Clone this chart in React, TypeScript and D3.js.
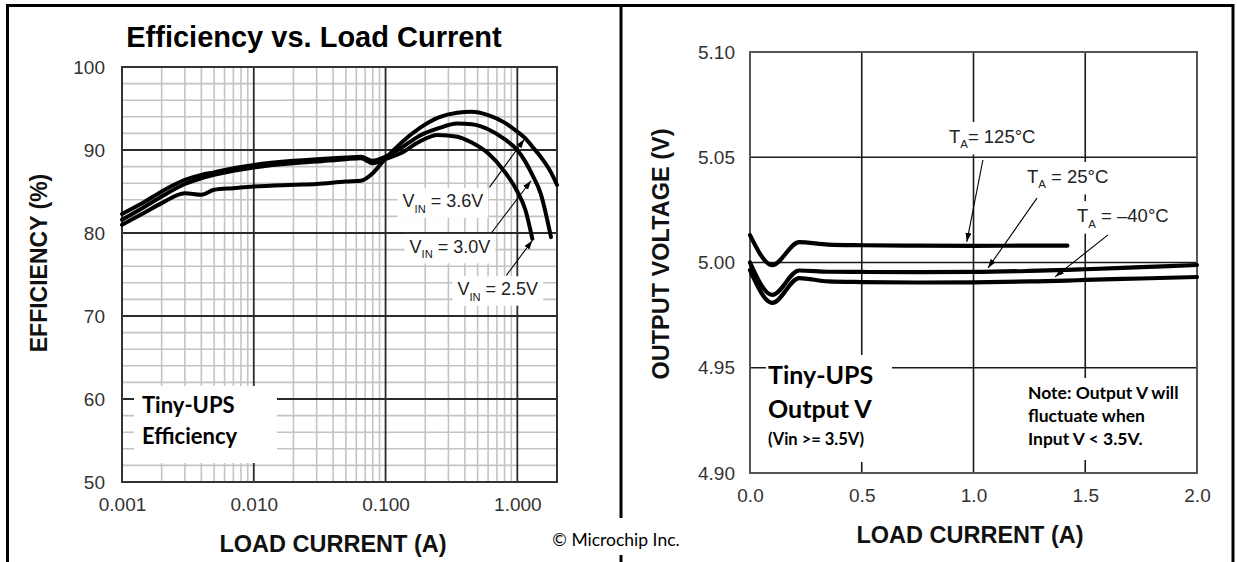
import React, { useEffect, useRef } from "react";
import * as d3 from "d3";

const W = 1237;
const H = 562;
const ARIAL = "'Liberation Sans', Arial, sans-serif";
const CALIBRI = "Lato, 'Open Sans', sans-serif";

// left chart: efficiency vs load current (log x)
const effCurrent = [0.001, 0.0015, 0.002, 0.003, 0.004, 0.005, 0.007, 0.01, 0.02, 0.03, 0.05, 0.065, 0.08, 0.1, 0.13, 0.18, 0.25, 0.35, 0.45, 0.6, 0.8, 1.0, 1.15, 1.3, 1.5, 1.8, 2.0];
const effVin36 = [81.0, 82.5, 83.6, 84.8, 84.6, 85.2, 85.4, 85.6, 85.8, 85.9, 86.2, 86.3, 87.2, 89.0, 90.8, 92.6, 93.9, 94.5, 94.6, 94.2, 93.3, 92.2, 91.4, 90.4, 89.2, 87.3, 85.8];
const effVin30 = [82.3, 83.8, 85.0, 86.4, 87.0, 87.3, 87.8, 88.2, 88.7, 88.9, 89.1, 89.2, 88.7, 89.2, 90.2, 91.7, 92.6, 93.2, 93.1, 92.5, 91.3, 90.0, 88.6, 87.0, 84.8, 79.5, null];
const effVin25 = [81.6, 83.2, 84.4, 85.9, 86.6, 87.0, 87.5, 87.9, 88.4, 88.6, 88.9, 89.0, 88.4, 88.9, 89.6, 91.0, 91.8, 91.6, 90.9, 89.6, 87.4, 85.0, 82.8, 79.3, null, null, null];
const effXTicks = [0.001, 0.01, 0.1, 1];
const effXTickLabels = ["0.001", "0.010", "0.100", "1.000"];
const effYTicks = [50, 60, 70, 80, 90, 100];
const effVinNames = ["3.6V", "3.0V", "2.5V"];

// right chart: output voltage vs load current
const voutCurrent = [0, 0.1, 0.22, 0.35, 0.5, 0.75, 1.0, 1.25, 1.42, 1.5, 1.75, 2.0];
const voutTa125 = [5.013, 4.9988, 5.0097, 5.0085, 5.0082, 5.008, 5.0079, 5.008, 5.008, null, null, null];
const voutTa25 = [5.0, 4.9846, 4.9962, 4.9956, 4.9955, 4.9954, 4.9955, 4.996, 4.9965, 4.9968, 4.9978, 4.9988];
const voutTaM40 = [4.9964, 4.9808, 4.9926, 4.991, 4.9907, 4.9905, 4.9906, 4.991, 4.9914, 4.9917, 4.9924, 4.9931];
const voutXTicks = [0, 0.5, 1, 1.5, 2];
const voutYTicks = [4.9, 4.95, 5.0, 5.05, 5.1];
const voutTaNames = ["125°C", "25°C", "–40°C"];

// annotations, in data units: label anchor, arrow tail, arrow tip
const effNotes = [
  { label: [0.1346, 83.1], tail: [0.614, 85.5], tip: [1.13, 91.3] },
  { label: [0.152, 77.6], tail: [0.635, 80.0], tip: [1.27, 86.3] },
  { label: [0.351, 72.5], tail: [0.826, 74.9], tip: [1.3, 79.1] },
];
const voutNotes = [
  { label: [0.89, 5.0568], tail: [1.042, 5.0487], tip: [0.97, 5.0098] },
  { label: [1.239, 5.0378], tail: [1.284, 5.0306], tip: [1.065, 4.9974] },
  { label: [1.463, 5.0192], tail: [1.602, 5.0131], tip: [1.365, 4.9932] },
];

const App = () => {
  const svgRef = useRef<SVGSVGElement>(null);

  useEffect(() => {
    const svg = d3.select(svgRef.current);
    svg.selectAll("*").remove();

    svg.append("defs").append("marker")
      .attr("id", "arr")
      .attr("markerUnits", "userSpaceOnUse")
      .attr("markerWidth", 10).attr("markerHeight", 8)
      .attr("refX", 9).attr("refY", 4)
      .attr("orient", "auto")
      .append("path").attr("d", "M0,1 L9,4 L0,7 Z").attr("fill", "#000");

    // label with a white box behind it
    const boxedText = (g: any, x: number, y: number, parts: any[], size: number, opts: any = {}) => {
      const t = g.append("text")
        .attr("x", x).attr("y", y)
        .attr("font-family", opts.family || ARIAL)
        .attr("font-size", size)
        .attr("fill", opts.fill || "#222");
      parts.forEach((p) => {
        if (p.sub) {
          t.append("tspan").attr("font-size", size * 0.62).attr("dy", size * 0.3).text(p.sub);
        } else {
          t.append("tspan").attr("dy", p.after ? -size * 0.3 : 0).text(p.text);
        }
      });
      const b = (t.node() as SVGTextElement).getBBox();
      const px = opts.padX ?? 4, py = opts.padY ?? 2;
      g.insert("rect", () => t.node())
        .attr("x", b.x - px).attr("y", b.y - py)
        .attr("width", b.width + 2 * px).attr("height", b.height + 2 * py)
        .attr("fill", "#fff");
      return t;
    };

    const arrow = (g: any, x1: number, y1: number, x2: number, y2: number) => {
      g.append("line")
        .attr("x1", x1).attr("y1", y1).attr("x2", x2).attr("y2", y2)
        .attr("stroke", "#000").attr("stroke-width", 1.1)
        .attr("marker-end", "url(#arr)");
    };

    // ---------- left chart ----------
    const lx = d3.scaleLog().domain([0.001, 2]).range([122, 557]);
    const ly = d3.scaleLinear().domain([50, 100]).range([482, 67]);
    const L = svg.append("g");

    const minorX: number[] = [];
    [0.001, 0.01, 0.1, 1].forEach((k) => d3.range(2, 10).forEach((m) => { if (k * m < 2) minorX.push(k * m); }));
    L.selectAll(".mx").data(minorX).enter().append("line")
      .attr("x1", (d) => lx(d)).attr("x2", (d) => lx(d))
      .attr("y1", ly(50)).attr("y2", ly(100))
      .attr("stroke", "#c4c4c4").attr("stroke-width", 1.6);
    const minorY = d3.range(52, 100, 2).filter((v) => v % 10 !== 0);
    L.selectAll(".my").data(minorY).enter().append("line")
      .attr("x1", lx(0.001)).attr("x2", lx(2))
      .attr("y1", (d) => ly(d)).attr("y2", (d) => ly(d))
      .attr("stroke", "#c4c4c4").attr("stroke-width", 1.6);
    L.selectAll(".MX").data(effXTicks.slice(1)).enter().append("line")
      .attr("x1", (d) => lx(d)).attr("x2", (d) => lx(d))
      .attr("y1", ly(50)).attr("y2", ly(100))
      .attr("stroke", "#2a2a2a").attr("stroke-width", 1.8);
    L.selectAll(".MY").data(effYTicks.slice(1, -1)).enter().append("line")
      .attr("x1", lx(0.001)).attr("x2", lx(2))
      .attr("y1", (d) => ly(d)).attr("y2", (d) => ly(d))
      .attr("stroke", "#2a2a2a").attr("stroke-width", 1.8);
    L.append("rect")
      .attr("x", lx(0.001)).attr("y", ly(100))
      .attr("width", lx(2) - lx(0.001)).attr("height", ly(50) - ly(100))
      .attr("fill", "none").attr("stroke", "#333").attr("stroke-width", 2);

    const lyAxis = L.append("g").attr("transform", `translate(${lx(0.001)},0)`)
      .call(d3.axisLeft(ly).tickValues(effYTicks).tickSize(0).tickPadding(17));
    const lxAxis = L.append("g").attr("transform", `translate(0,${ly(50)})`)
      .call(d3.axisBottom(lx).tickValues(effXTicks).tickSize(0).tickPadding(16)
        .tickFormat((d, i) => effXTickLabels[i]));
    [lyAxis, lxAxis].forEach((a) => {
      a.select(".domain").remove();
      a.selectAll("text").attr("font-size", 19).attr("font-family", ARIAL).attr("fill", "#333");
    });

    // Tiny-UPS Efficiency box
    L.append("rect").attr("x", 134).attr("y", 386).attr("width", 143).attr("height", 77).attr("fill", "#fff");
    L.append("text").attr("x", 142).attr("y", 413).attr("font-family", CALIBRI).attr("font-weight", "bold")
      .attr("font-size", 22).attr("fill", "#000").text("Tiny-UPS");
    L.append("text").attr("x", 142).attr("y", 444).attr("font-family", CALIBRI).attr("font-weight", "bold")
      .attr("font-size", 22).attr("fill", "#000").text("Efficiency");

    effNotes.forEach((n, i) => {
      boxedText(L, lx(n.label[0]), ly(n.label[1]),
        [{ text: "V" }, { sub: "IN" }, { text: " = " + effVinNames[i], after: true }], 18, { padX: 5, padY: 3 });
    });

    const effLine = d3.line<any>()
      .defined((d) => d[1] != null)
      .x((d) => lx(d[0])).y((d) => ly(d[1]))
      .curve(d3.curveMonotoneX);
    [effVin36, effVin30, effVin25].forEach((s) => {
      L.append("path").datum(effCurrent.map((c, i) => [c, s[i]]))
        .attr("d", effLine).attr("fill", "none").attr("stroke", "#000")
        .attr("stroke-width", 4).attr("stroke-linecap", "round").attr("stroke-linejoin", "round");
    });
    effNotes.forEach((n) => arrow(L, lx(n.tail[0]), ly(n.tail[1]), lx(n.tip[0]), ly(n.tip[1])));

    L.append("text").attr("x", 314).attr("y", 47).attr("text-anchor", "middle")
      .attr("font-family", ARIAL).attr("font-weight", "bold").attr("font-size", 29).attr("fill", "#000")
      .text("Efficiency vs. Load Current");
    L.append("text").attr("transform", "translate(47,263) rotate(-90)").attr("text-anchor", "middle")
      .attr("font-family", ARIAL).attr("font-weight", "bold").attr("font-size", 23).attr("fill", "#111")
      .text("EFFICIENCY (%)");
    L.append("text").attr("x", 333).attr("y", 552).attr("text-anchor", "middle")
      .attr("font-family", ARIAL).attr("font-weight", "bold").attr("font-size", 23.5).attr("fill", "#111")
      .text("LOAD CURRENT (A)");

    // ---------- right chart ----------
    const rx = d3.scaleLinear().domain([0, 2]).range([750, 1197]);
    const ry = d3.scaleLinear().domain([4.9, 5.1]).range([473, 52]);
    const R = svg.append("g");

    R.selectAll(".gx").data(voutXTicks.slice(1, -1)).enter().append("line")
      .attr("x1", (d) => rx(d)).attr("x2", (d) => rx(d))
      .attr("y1", ry(4.9)).attr("y2", ry(5.1))
      .attr("stroke", "#1a1a1a").attr("stroke-width", 1.6);
    R.selectAll(".gy").data(voutYTicks.slice(1, -1)).enter().append("line")
      .attr("x1", rx(0)).attr("x2", rx(2))
      .attr("y1", (d) => ry(d)).attr("y2", (d) => ry(d))
      .attr("stroke", "#1a1a1a").attr("stroke-width", 1.6);
    R.append("rect")
      .attr("x", rx(0)).attr("y", ry(5.1))
      .attr("width", rx(2) - rx(0)).attr("height", ry(4.9) - ry(5.1))
      .attr("fill", "none").attr("stroke", "#555").attr("stroke-width", 2);

    const ryAxis = R.append("g").attr("transform", `translate(${rx(0)},0)`)
      .call(d3.axisLeft(ry).tickValues(voutYTicks).tickSize(0).tickPadding(15).tickFormat(d3.format(".2f")));
    const rxAxis = R.append("g").attr("transform", `translate(0,${ry(4.9)})`)
      .call(d3.axisBottom(rx).tickValues(voutXTicks).tickSize(0).tickPadding(16).tickFormat(d3.format(".1f")));
    [ryAxis, rxAxis].forEach((a) => {
      a.select(".domain").remove();
      a.selectAll("text").attr("font-size", 19).attr("font-family", ARIAL).attr("fill", "#333");
    });

    // Tiny-UPS Output V box
    R.append("rect").attr("x", 766).attr("y", 355).attr("width", 126).attr("height", 107).attr("fill", "#fff");
    R.append("text").attr("x", 768).attr("y", 384).attr("font-family", CALIBRI).attr("font-weight", "bold")
      .attr("font-size", 25).attr("fill", "#000").text("Tiny-UPS");
    R.append("text").attr("x", 768).attr("y", 418).attr("font-family", CALIBRI).attr("font-weight", "bold")
      .attr("font-size", 25).attr("fill", "#000").text("Output V");
    R.append("text").attr("x", 768).attr("y", 445).attr("font-family", CALIBRI).attr("font-weight", "bold")
      .attr("font-size", 16.5).attr("fill", "#000").text("(Vin >= 3.5V)");

    // note box
    R.append("rect").attr("x", 1020).attr("y", 378).attr("width", 170).attr("height", 82).attr("fill", "#fff");
    ["Note: Output V will", "fluctuate when", "Input V < 3.5V."].forEach((s, i) => {
      R.append("text").attr("x", 1028).attr("y", 399 + i * 23).attr("font-family", CALIBRI)
        .attr("font-weight", "bold").attr("font-size", 17.5).attr("fill", "#000").text(s);
    });

    voutNotes.forEach((n, i) => {
      boxedText(R, rx(n.label[0]), ry(n.label[1]),
        [{ text: "T" }, { sub: "A" }, { text: (i === 0 ? "= " : " = ") + voutTaNames[i], after: true }], 18.5, { padX: 4, padY: 4 });
    });

    const voutLine = d3.line<any>()
      .defined((d) => d[1] != null)
      .x((d) => rx(d[0])).y((d) => ry(d[1]))
      .curve(d3.curveMonotoneX);
    [voutTa125, voutTa25, voutTaM40].forEach((s) => {
      R.append("path").datum(voutCurrent.map((c, i) => [c, s[i]]))
        .attr("d", voutLine).attr("fill", "none").attr("stroke", "#000")
        .attr("stroke-width", 4.2).attr("stroke-linecap", "round").attr("stroke-linejoin", "round");
    });
    voutNotes.forEach((n) => arrow(R, rx(n.tail[0]), ry(n.tail[1]), rx(n.tip[0]), ry(n.tip[1])));

    R.append("text").attr("transform", "translate(669,254) rotate(-90)").attr("text-anchor", "middle")
      .attr("font-family", ARIAL).attr("font-weight", "bold").attr("font-size", 23.5).attr("fill", "#111")
      .text("OUTPUT VOLTAGE (V)");
    R.append("text").attr("x", 970).attr("y", 543).attr("text-anchor", "middle")
      .attr("font-family", ARIAL).attr("font-weight", "bold").attr("font-size", 23.5).attr("fill", "#111")
      .text("LOAD CURRENT (A)");

    // ---------- frame ----------
    svg.append("rect").attr("x", 7.5).attr("y", 5.5).attr("width", 1225.5).attr("height", 620)
      .attr("fill", "none").attr("stroke", "#000").attr("stroke-width", 3);
    svg.append("line").attr("x1", 621).attr("x2", 621).attr("y1", 5).attr("y2", H)
      .attr("stroke", "#000").attr("stroke-width", 3);
    const cr = svg.append("g");
    cr.append("rect").attr("x", 550).attr("y", 518).attr("width", 134).attr("height", 37).attr("fill", "#fff");
    cr.append("text").attr("x", 616).attr("y", 546).attr("text-anchor", "middle")
      .attr("font-family", CALIBRI).attr("font-size", 17.5).attr("fill", "#000").text("© Microchip Inc.");
  }, []);

  return (
    <svg ref={svgRef} width={W} height={H}
      style={{ position: "absolute", left: 0, top: 0, display: "block", background: "#fff" }} />
  );
};

export default App;
